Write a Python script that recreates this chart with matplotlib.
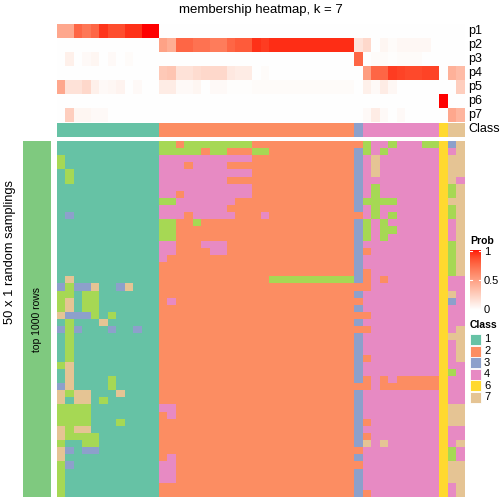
import numpy as np
import matplotlib
matplotlib.use("Agg")
import matplotlib.pyplot as plt
from matplotlib.colors import ListedColormap
from matplotlib.patches import Rectangle

plt.rcParams['font.family'] = ['Liberation Sans', 'DejaVu Sans']

W, H = 504, 504

# class colours (Set2 style)
class_colors = {1: '#66C2A5', 2: '#FC8D62', 3: '#8DA0CB', 4: '#E78AC3',
                5: '#A6D854', 6: '#FFD92F', 7: '#E5C494'}
legend_classes = [1, 2, 3, 4, 6, 7]

# class of each column (48 columns)
col_class = [1]*12 + [2]*23 + [3] + [4]*9 + [6] + [7]*2

# membership probabilities per column
p1 = [0.45, 0.45, 0.75, 0.68, 0.75, 0.92, 0.85, 0.85, 0.93, 0.93, 1.0, 1.0] + [0]*36
p2 = [0]*12 + [0.48, 0.42, 0.75, 0.75, 0.7, 0.7, 0.66, 0.66, 0.75, 0.8, 0.8, 0.93, 0.9,
               0.94, 0.94, 0.94, 0.94, 0.94, 0.94, 0.94, 0.94, 0.94, 0.94] + \
     [0.14, 0.2, 0, 0.05, 0.02, 0.04, 0.04, 0.04, 0.04, 0, 0, 0, 0]
p3 = [0, 0.08, 0, 0.03, 0.05, 0, 0.03, 0, 0.02, 0, 0, 0] + [0]*23 + \
     [0.75, 0, 0.02, 0.02, 0.01, 0.02, 0.02, 0.02, 0, 0, 0, 0, 0]
p4 = [0]*12 + [0.28, 0.3, 0.15, 0.15, 0.18, 0.2, 0.2, 0.2, 0.12, 0.1, 0.1, 0, 0.02,
               0, 0, 0, 0, 0, 0, 0, 0, 0, 0] + \
     [0, 0.5, 0.75, 0.75, 0.9, 0.88, 0.86, 0.86, 0.88, 0.88, 0, 0.4, 0.35]
p5 = [0.45, 0.15, 0.15, 0.2, 0.08, 0.03, 0.04, 0.06, 0, 0.03, 0, 0] + \
     [0.1, 0.1, 0.03, 0.03, 0.05, 0, 0.03, 0.03, 0.01, 0.01, 0.01, 0.02, 0.02,
      0.02, 0.02, 0.02, 0.02, 0.02, 0.02, 0.02, 0.02, 0.02, 0.02] + \
     [0, 0.08, 0.03, 0.1, 0.04, 0, 0, 0, 0, 0, 0, 0, 0.25]
p6 = [0]*45 + [1.0] + [0, 0]
p7 = [0, 0.25, 0.05, 0.05, 0.03, 0.03, 0, 0, 0, 0, 0, 0] + [0]*23 + \
     [0, 0.03, 0.1, 0.03, 0, 0.03, 0, 0, 0, 0, 0, 0.45, 0.38]
prob_labels = ['p1', 'p2', 'p3', 'p4', 'p5', 'p6', 'p7']

# 50 random samplings x 48 columns, class label of each cell
rows = [
    "111111111111" "55255555555222222222222" "2" "544544455" "6" "37",
    "111111111111" "55555255222552222222222" "3" "545444444" "6" "47",
    "511111111111" "44444444444222222222222" "3" "474444444" "6" "77",
    "511111111111" "44424444222222222222222" "3" "474444444" "6" "77",
    "151111111111" "44444444444222222222222" "3" "474444444" "6" "77",
    "151111111111" "44444444222222222222222" "3" "444444444" "6" "74",
    "111111111111" "44444444444222222222222" "3" "454444444" "6" "57",
    "111111111111" "44244444444222222222222" "3" "454444444" "6" "57",
    "111111111111" "55444444422222222222222" "3" "555544444" "6" "77",
    "111111111111" "44444444222222222222222" "3" "454444444" "6" "57",
    "131111111111" "44424444422242222222222" "2" "454544444" "6" "57",
    "111111111111" "55225222222222222222222" "3" "545444444" "6" "47",
    "111111111111" "55222222222222222222222" "3" "545544444" "6" "47",
    "111111111111" "55222222222222222222222" "3" "545444444" "6" "47",
    "111111111111" "44222444222222222222222" "3" "444444444" "6" "57",
    "111111111111" "44222244222222222222222" "3" "244444444" "6" "57",
    "111111111111" "42222222222222222222222" "3" "444444444" "6" "57",
    "111111111111" "22222222222222222222222" "3" "444444444" "6" "57",
    "111111111111" "22222222222222222222222" "3" "244444444" "6" "57",
    "171111111111" "22222222222225555555555" "3" "242444444" "6" "44",
    "353371137111" "22222222222222222222222" "2" "244444444" "6" "44",
    "551551111111" "22222222222222222222222" "3" "444444444" "6" "74",
    "571551111111" "24222222222222222222222" "2" "444444444" "6" "34",
    "571551111111" "22222222222222222222222" "3" "444444444" "6" "44",
    "733351511111" "22222222222222222222222" "2" "244444444" "6" "44",
    "151117111111" "22222222222222222222222" "3" "444444444" "6" "44",
    "353111311311" "22222222222222222222222" "2" "244444444" "6" "47",
    "151111111111" "22222222222222222222222" "3" "444444444" "6" "77",
    "151111111111" "22222222222222222222222" "3" "444444444" "6" "47",
    "151111111111" "22222222222222222222222" "3" "444444444" "6" "47",
    "151111111111" "22222222222222222222222" "3" "244444444" "6" "47",
    "571111111111" "22222222222222222222222" "3" "444444444" "6" "44",
    "171111111111" "22222222222222222222222" "3" "444444444" "6" "54",
    "171111511111" "22222222222222222222222" "3" "242422222" "6" "44",
    "371111511111" "22222222222222222222222" "2" "242222222" "6" "44",
    "757711171111" "22222222222222222222222" "3" "444444444" "6" "44",
    "717715111111" "22222222222222222222222" "3" "444444444" "6" "44",
    "555511111111" "44222222222222222222222" "3" "444444444" "6" "77",
    "555511111111" "24222222222222222222222" "3" "444444444" "6" "77",
    "555511151111" "22222222222222222222222" "3" "244444444" "6" "77",
    "757711111111" "22222222222222222222222" "3" "444444444" "6" "44",
    "755551111111" "22222222222222222222222" "3" "244444444" "6" "44",
    "511551111111" "22222222222222222222222" "3" "747444444" "6" "47",
    "731331111111" "22222222222222222222222" "2" "444444444" "6" "54",
    "711111111111" "24222222222222222222222" "3" "444444444" "6" "54",
    "531111111111" "44222222222222222222222" "2" "444444444" "6" "77",
    "511111111111" "44222222222222222222222" "3" "444444444" "6" "77",
    "511111111111" "44222222222222222222222" "3" "444444444" "6" "77",
    "511111111111" "22222222222222222222222" "3" "444444444" "6" "47",
    "511111111111" "22222222222222222222222" "3" "244444444" "6" "47",
]


def lab_white_red(n=256):
    # white -> red interpolated in CIE Lab, like colorRamp2
    t = np.linspace(0, 1, n)
    L = 100 - 46.77 * t
    a = 80.1 * t
    b = 67.2 * t
    fy = (L + 16) / 116
    fx = fy + a / 500
    fz = fy - b / 200

    def finv(f):
        return np.where(f > 6 / 29, f ** 3, 3 * (6 / 29) ** 2 * (f - 4 / 29))
    X = 0.95047 * finv(fx)
    Y = finv(fy)
    Z = 1.08883 * finv(fz)
    R = 3.2406 * X - 1.5372 * Y - 0.4986 * Z
    G = -0.9689 * X + 1.8758 * Y + 0.0415 * Z
    B = 0.0557 * X - 0.2040 * Y + 1.0570 * Z
    rgb = np.clip(np.stack([R, G, B], 1), 0, 1)
    rgb = np.where(rgb > 0.0031308, 1.055 * rgb ** (1 / 2.4) - 0.055, 12.92 * rgb)
    return ListedColormap(np.clip(rgb, 0, 1))


prob_cmap = lab_white_red()
cls_cmap = ListedColormap([class_colors[k] for k in range(1, 8)])


def px(x0, y0, x1, y1):
    return [x0 / W, 1 - y1 / H, (x1 - x0) / W, (y1 - y0) / H]


fig = plt.figure(figsize=(W / 100, H / 100), dpi=100)
fig.patch.set_facecolor('white')

X0, X1 = 57, 465

# probability annotation
ax = fig.add_axes(px(X0, 24, X1, 122))
P = np.array([p1, p2, p3, p4, p5, p6, p7])
ax.imshow(P, cmap=prob_cmap, vmin=0, vmax=1, aspect='auto', interpolation='nearest')
ax.axis('off')

# class annotation
ax = fig.add_axes(px(X0, 123.5, X1, 137.5))
ax.imshow(np.array([col_class]), cmap=cls_cmap, vmin=0.5, vmax=7.5,
          aspect='auto', interpolation='nearest')
ax.axis('off')

for i, lab in enumerate(prob_labels + ['Class']):
    fig.text(468 / W, 1 - (31 + 14 * i) / H, lab, fontsize=9, va='center', ha='left')

# main heatmap
M = np.array([[int(ch) for ch in r] for r in rows])
ax = fig.add_axes(px(X0, 141, X1, 497))
ax.imshow(M, cmap=cls_cmap, vmin=0.5, vmax=7.5, aspect='auto', interpolation='nearest')
ax.axis('off')

# left bar
ax = fig.add_axes(px(23, 141, 51, 497))
ax.set_facecolor('#7FC97F')
ax.set_xticks([])
ax.set_yticks([])
for s in ax.spines.values():
    s.set_visible(False)
ax.text(0.5, 0.5, 'top 1000 rows', rotation=90, ha='center', va='center',
        fontsize=7.5, transform=ax.transAxes)

fig.text(10 / W, 1 - 252 / H, '50 x 1 random samplings', rotation=90,
         ha='center', va='center', fontsize=9.3)
fig.text(261 / W, 1 - 10 / H, 'membership heatmap, k = 7', ha='center',
         va='center', fontsize=9.5)

# Prob legend
fig.text(470 / W, 1 - 241 / H, 'Prob', fontsize=7.5, fontweight='bold', va='center')
cb = fig.add_axes(px(470, 250, 481, 310))
cb.imshow(np.linspace(1, 0, 200).reshape(-1, 1), cmap=prob_cmap, vmin=0, vmax=1,
          aspect='auto', extent=[0, 1, 0, 1])
for v in [0.5, 1.0]:
    yy = v if v < 1 else 0.985
    cb.plot([0, 0.18], [yy, yy], color='white', lw=0.8)
    cb.plot([0.82, 1], [yy, yy], color='white', lw=0.8)
cb.set_xlim(0, 1)
cb.set_ylim(0, 1)
cb.axis('off')
for v, lab in [(1, '1'), (0.5, '0.5'), (0, '0')]:
    fig.text(484 / W, 1 - (310 - 58 * v) / H, lab, fontsize=8, va='center')

# Class legend
fig.text(470 / W, 1 - 325 / H, 'Class', fontsize=7.5, fontweight='bold', va='center')
for i, k in enumerate(legend_classes):
    y = 334 + 11.6 * i
    fig.patches.append(Rectangle((470 / W, 1 - (y + 11) / H), 11 / W, 11 / H,
                                 facecolor=class_colors[k], edgecolor='white', lw=0.6,
                                 transform=fig.transFigure, figure=fig))
    fig.text(484 / W, 1 - (y + 5.5) / H, str(k), fontsize=8, va='center')

fig.savefig('out.png', dpi=100)
